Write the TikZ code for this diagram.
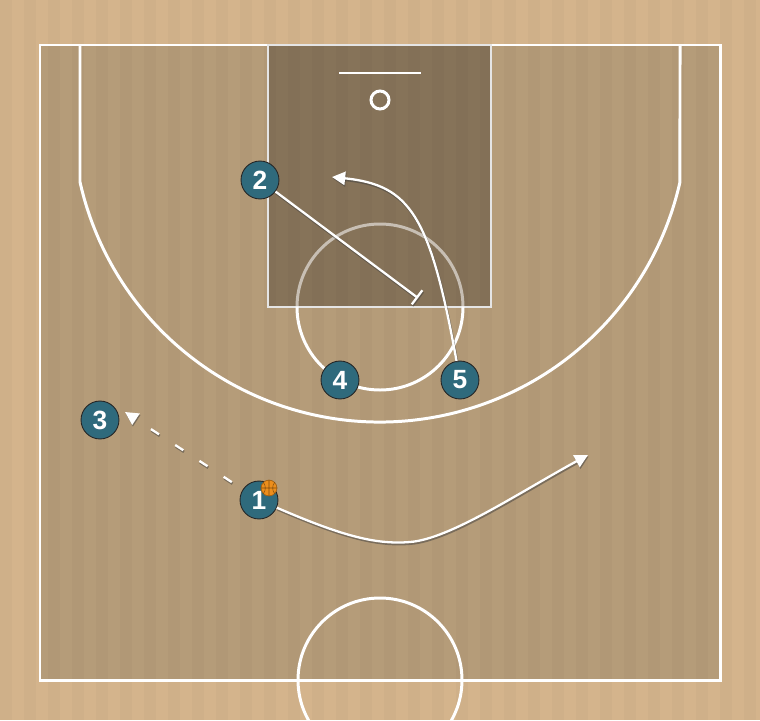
\documentclass[tikz,border=0pt]{standalone}
\usepackage{fontspec}
\newfontfamily\numfont{Liberation Sans}
\usetikzlibrary{positioning,arrows.meta}

\definecolor{floor}{RGB}{212,180,140}
\definecolor{court}{RGB}{181,156,121}
\definecolor{paint}{RGB}{134,115,89}
\definecolor{jersey}{RGB}{47,106,124}
\definecolor{ballorange}{RGB}{236,142,28}

\tikzset{
  courtline/.style={white, line width=1.7pt},
  player/.style={circle, fill=jersey, draw=black!85, line width=0.5pt,
    minimum size=21.6pt, inner sep=0pt, text=white,
    font=\numfont\bfseries\fontsize{15}{15}\selectfont},
  move/.style={white, line width=1.3pt,
    preaction={draw=black!75, opacity=.5, line width=1.5pt,
      transform canvas={shift={(0.4pt,-0.9pt)}}}},
  passline/.style={white, line width=1.3pt, dash pattern=on 5.5pt off 11pt, dash phase=9pt,
    preaction={draw=black!75, opacity=.5, line width=1.5pt, dash pattern=on 5.5pt off 11pt, dash phase=9pt,
      transform canvas={shift={(0.4pt,-0.9pt)}}}},
  ballnode/.style={circle, fill=ballorange, draw=ballorange!70!black,
    line width=0.4pt, minimum size=9pt, inner sep=0pt},
  tip/.style={-{Triangle[length=7.5pt, width=7.5pt]}},
}

\begin{document}
\begin{tikzpicture}[x=0.02cm, y=-0.02cm, node distance=2.4cm]
        \useasboundingbox (0,0) rectangle (760,720);
        % Floor and court
        \fill[floor] (0,0) rectangle (760,720);
        \fill[court] (40,45) rectangle (720,680);
        \fill[paint] (268,45) rectangle (491,307);
        \foreach \x in {0,24,...,744}
            \fill[black, opacity=.02] (\x,0) rectangle +(12,720);
        
        % Lines
        \draw[courtline] (40,45) rectangle (720,680);
        \draw[white!90!black, line width=1.1pt] (268,45) rectangle (491,307);
        \draw[courtline] (80,45) -- (80,182)
            arc[start angle=167.32, end angle=12.68, radius=307.5] -- (680,45);
        \draw[white, opacity=.55, line width=1.7pt] (297,307) arc[start angle=180, end angle=360, radius=83];
        \draw[courtline] (463,307) arc[start angle=0, end angle=180, radius=83];
        \draw[white, line width=1.1pt] (339,73) -- (421,73);
        \draw[courtline] (380,100) circle[radius=9];
        \draw[courtline] (380,680) circle[radius=82];
        
        % Players
        \node[player] (p1) at (259,500) {1};
        \node[player] (p2) at (260,180) {2};
        \node[player] (p3) at (100,420) {3};
        \node[player] (p4) at (340,380) {4};
        \node[player] (p5) [right of=p4] {5};
        
        % Ball
        \node[ballnode] (bl) at (269,488) {};
        \draw[ballorange!55!black, line width=0.3pt] (bl.north) -- (bl.south) (bl.west) -- (bl.east)
            (bl.north west) to[bend left=40] (bl.south west)
            (bl.north east) to[bend right=40] (bl.south east);
        
        % Ends of the moves
        \coordinate (scr) at (418,298);
        \coordinate (cut) at (332,177);
        \coordinate (drib) at (588,455);
        \coordinate (pass) at (125,412);
        
        % Moves
        \draw[move, -{Bar[width=10pt, line width=1.3pt]}] (p2) -- (scr);
        \draw[move, tip] (p5) .. controls (430,215) and (410,185) .. (cut);
        \draw[move, tip] (p1) .. controls (340,535) and (375,545) .. (410,542)
            .. controls (450,539) and (520,492) .. (drib);
        \draw[passline, tip] (p1) -- (pass);
    \end{tikzpicture}
\end{document}
